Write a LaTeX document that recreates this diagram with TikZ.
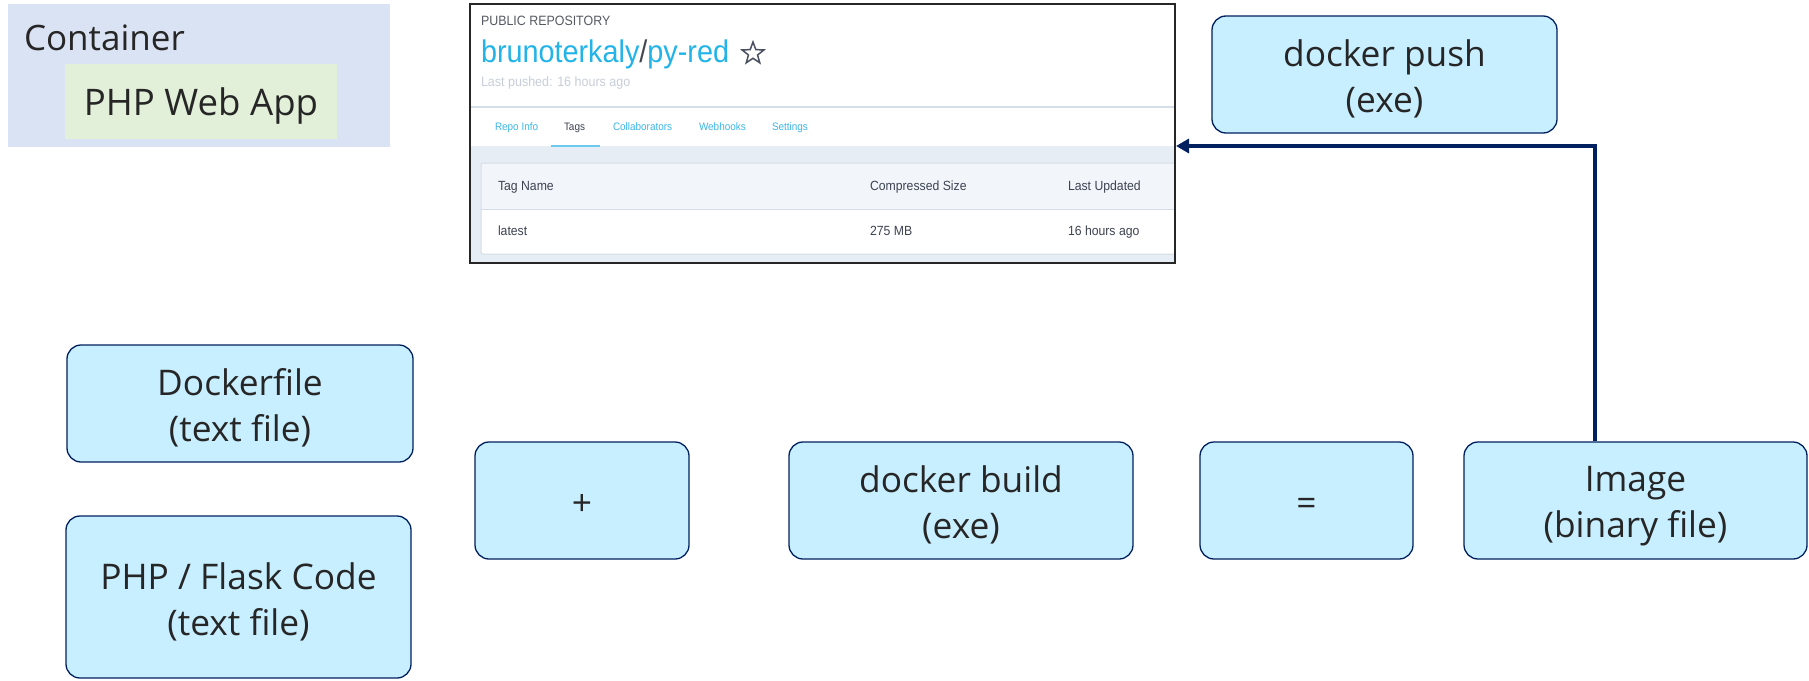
\documentclass[tikz,border=0pt]{standalone}
\usepackage{fontspec}
\setmainfont{Open Sans}
\newfontfamily\shotfont[FakeStretch=0.92]{Liberation Sans}
\usetikzlibrary{arrows.meta,shapes.geometric}
\newcommand\boxstrut{\rule[-6pt]{0pt}{42pt}}
\definecolor{boxfill}{RGB}{200,239,255}
\definecolor{boxline}{RGB}{0,32,96}
\definecolor{txt}{RGB}{38,38,38}
\definecolor{contfill}{RGB}{218,227,243}
\definecolor{appfill}{RGB}{226,240,217}
\definecolor{arrowc}{RGB}{0,32,96}
\definecolor{framec}{RGB}{38,38,38}
\definecolor{dockblue}{RGB}{34,180,232}
\definecolor{tabblue}{RGB}{60,182,232}
\definecolor{slate}{RGB}{60,66,80}
\definecolor{slashc}{RGB}{68,72,80}
\definecolor{pubgray}{RGB}{85,90,98}
\definecolor{lightgray}{RGB}{200,206,216}
\definecolor{band}{RGB}{231,237,244}
\definecolor{hdr}{RGB}{242,246,250}
\definecolor{rulec}{RGB}{213,221,230}
\definecolor{starc}{RGB}{74,80,96}
\begin{document}
\begin{tikzpicture}[x=1pt,y=-1pt,
  box/.style={draw=boxline, fill=boxfill, line width=1.3pt, rounded corners=14pt,
    align=center, text=txt, font=\fontsize{35.3}{46}\selectfont, inner sep=0pt},
  plain/.style={inner sep=0pt, outer sep=0pt},
  shottext/.style={plain, font=\shotfont\fontsize{13.3}{15}\selectfont, text=slate, anchor=base west},
  tabtext/.style={plain, font=\shotfont\fontsize{10.8}{13}\selectfont, text=tabblue, anchor=base west},
  flow/.style={draw=arrowc, line width=4pt, -{Triangle[length=13pt,width=14pt]}},
]
\useasboundingbox (0,0) rectangle (1809,680);
\fill[white] (0,0) rectangle (1809,680);

% Container
\node[plain, fill=contfill, minimum width=382pt, minimum height=143pt] (cont) at (199,75.5) {};
\node[plain, text=txt, font=\fontsize{35}{45}\selectfont, anchor=base west] (conttext) at (24,50) {Container};
\node[plain, fill=appfill, minimum width=272pt, minimum height=75pt, text=txt,
  font=\fontsize{36.6}{46}\selectfont] (app) at (201,101.5) {\boxstrut PHP Web App};

% Screenshot of repository
\fill[white] (470,4) rectangle (1175,263);
\fill[band] (470,146) rectangle (1175,263);
\draw[rulec, line width=1.2pt] (470,107) -- (1175,107);
\draw[tabblue!75, line width=2pt] (551,146) -- (600,146);
\fill[white] (481,163) rectangle (1175,254);
\fill[hdr] (481,163) rectangle (1175,209);
\draw[rulec, line width=1pt] (481,209) -- (1175,209);
\draw[rulec, line width=1pt, rounded corners=2pt] (1175,163) -- (481,163) -- (481,254) -- (1175,254);

\node[plain, anchor=base west, font=\shotfont\fontsize{13.5}{15}\selectfont, text=pubgray] (pub) at (481,25) {PUBLIC REPOSITORY};
\node[plain, anchor=base west, font=\shotfont\fontsize{31.3}{36}\selectfont] (repo) at (481,62)
  {\textcolor{dockblue}{brunoterkaly}\textcolor{slashc}{/}\textcolor{dockblue}{py-red}};
\node[star, star points=5, star point ratio=2.4, minimum size=23pt, inner sep=0pt,
  draw=starc, line width=1.5pt] (star) at (753,53.5) {};
\node[plain, anchor=base west, font=\shotfont\fontsize{13.6}{15}\selectfont, text=lightgray] (pushed) at (481,86) {Last pushed: 16 hours ago};

\node[tabtext] (t1) at (495,130) {Repo Info};
\node[tabtext, text=slate] (t2) at (564,130) {Tags};
\node[tabtext] (t3) at (613,130) {Collaborators};
\node[tabtext] (t4) at (699,130) {Webhooks};
\node[tabtext] (t5) at (772,130) {Settings};

\node[shottext] (h1) at (498,190) {Tag Name};
\node[shottext] (h2) at (870,190) {Compressed Size};
\node[shottext] (h3) at (1068,190) {Last Updated};
\node[shottext] (r1) at (498,235) {latest};
\node[shottext] (r2) at (870,235) {275 MB};
\node[shottext] (r3) at (1068,235) {16 hours ago};

\node[draw=framec, line width=2pt, inner sep=0pt, minimum width=705pt, minimum height=259pt] (shot) at (822.5,133.5) {};

% Boxes
\node[box, minimum width=345pt, minimum height=117pt] (push) at (1384.5,74.5) {\boxstrut docker push\\\boxstrut (exe)};
\node[box, minimum width=346pt, minimum height=117pt] (dockerfile) at (240,403.5) {\boxstrut Dockerfile\\\boxstrut (text file)};
\node[box, minimum width=345pt, minimum height=162pt] (code) at (238.5,597) {\boxstrut PHP / Flask Code\\\boxstrut (text file)};
\node[box, minimum width=214pt, minimum height=117pt] (plus) at (582,500.5) {\boxstrut +};
\node[box, minimum width=344pt, minimum height=117pt] (build) at (961,500.5) {\boxstrut docker build\\\boxstrut (exe)};
\node[box, minimum width=213pt, minimum height=117pt] (equals) at (1306.5,500.5) {\boxstrut =};
\node[box, minimum width=343pt, minimum height=117pt] (image) at (1635.5,500.5) {\boxstrut Image\\\boxstrut (binary file)};

% Arrow
\coordinate (bend) at (1595,146);
\draw[flow] (image.north -| bend) -- (bend) -- (shot.east |- bend);
\end{tikzpicture}
\end{document}
